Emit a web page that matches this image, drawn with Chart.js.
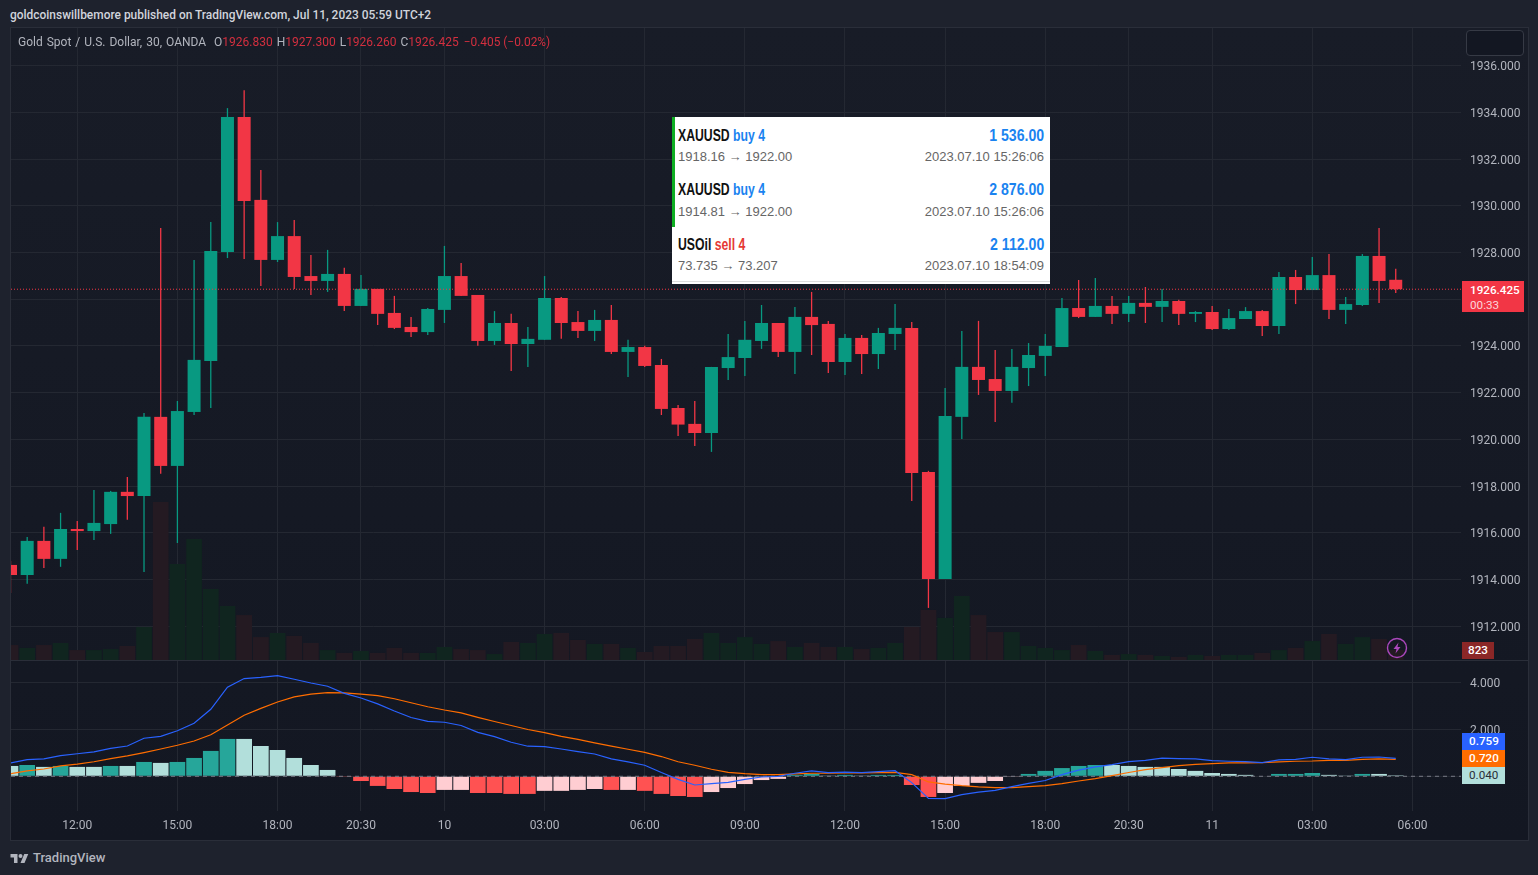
<!DOCTYPE html>
<html>
<head>
<meta charset="utf-8">
<title>XAUUSD 30</title>
<script src="https://cdn.jsdelivr.net/npm/chart.js@4/dist/chart.umd.min.js"></script>
<style>
html, body { margin: 0; padding: 0; background: #1e222d; width: 1538px; height: 875px; overflow: hidden; font-family: Roboto, sans-serif; }
.abs { position: absolute; white-space: nowrap; }
#frame { position: absolute; left: 10px; top: 27px; width: 1517px; height: 812px; border: 1px solid #2a2e39; background: linear-gradient(#181c27, #131722); }
canvas { position: absolute; display: block; }
#pub { left: 10px; top: 8px; font-size: 11.95px; font-weight: 500; color: #d1d4dc; }
#legend { left: 18px; top: 35px; font-size: 12px; color: #b2b5be; word-spacing: 1px; }
#legend b { font-weight: 400; color: #d32f3f; margin-right: 4px; }
#legend b.chg { margin-left: 1px; margin-right: 0; word-spacing: 0; font-size: 11.9px; }
.tag { position: absolute; left: 1462px; font-size: 11.7px; font-weight: 500; color: #fff; text-align: left; padding-left: 8px; box-sizing: border-box; }
#toggle { left: 1466px; top: 30px; width: 58px; height: 26px; box-sizing: border-box; border: 1px solid #363a45; border-radius: 4px; background: #131722; }
#popup { left: 672px; top: 117px; width: 378px; height: 167px; background: #fff; }
#popup .strip { position: absolute; left: 0; top: 0; width: 3px; height: 110px; background: #0fae22; }
#popup .rule { position: absolute; left: 0; right: 0; top: 164px; height: 1px; background: #ddd; }
#popup .t, #popup .p { position: absolute; font-family: "Liberation Sans", sans-serif; font-weight: 700; font-size: 17px; color: #111; }
#popup .t { left: 6px; transform: scaleX(0.72); transform-origin: left center; }
#popup .p { right: 6px; color: #1a83f0; transform: scaleX(0.83); transform-origin: right center; }
#popup .s, #popup .d { position: absolute; font-family: "Liberation Sans", sans-serif; font-size: 13px; color: #666; }
#popup .s { left: 6px; }
#popup .d { right: 6px; }
.buy { color: #1a83f0; }
.sell { color: #e53935; }
#brand { left: 33px; top: 850px; font-size: 13px; font-weight: 500; color: #b2b5be; }
</style>
</head>
<body>
<div id="frame"></div>
<canvas id="price-chart" width="1517" height="632" style="left:11px;top:28px"></canvas>
<canvas id="macd-chart" width="1517" height="178" style="left:11px;top:661px"></canvas>
<div style="position:absolute;left:11px;top:660px;width:1517px;height:1px;background:#2a2e39"></div>

<div id="pub" class="abs">goldcoinswillbemore published on TradingView.com, Jul 11, 2023 05:59 UTC+2</div>
<div id="legend" class="abs">Gold Spot / U.S. Dollar, 30, OANDA&nbsp; O<b>1926.830</b>H<b>1927.300</b>L<b>1926.260</b>C<b>1926.425</b><b class="chg">−0.405 (−0.02%)</b></div>
<div id="toggle" class="abs"></div>

<div id="popup" class="abs">
  <div class="strip"></div>
  <div class="t" style="top:9px">XAUUSD <span class="buy">buy 4</span></div>
  <div class="p" style="top:9px">1 536.00</div>
  <div class="s" style="top:32px">1918.16 → 1922.00</div>
  <div class="d" style="top:32px">2023.07.10 15:26:06</div>
  <div class="t" style="top:63px">XAUUSD <span class="buy">buy 4</span></div>
  <div class="p" style="top:63px">2 876.00</div>
  <div class="s" style="top:87px">1914.81 → 1922.00</div>
  <div class="d" style="top:87px">2023.07.10 15:26:06</div>
  <div class="t" style="top:118px">USOil <span class="sell">sell 4</span></div>
  <div class="p" style="top:118px">2 112.00</div>
  <div class="s" style="top:141px">73.735 → 73.207</div>
  <div class="d" style="top:141px">2023.07.10 18:54:09</div>
  <div class="rule"></div>
</div>

<div class="tag" style="top:281px;width:62px;height:31px;background:#f23645;line-height:15px;padding-top:2px">1926.425<br><span style="font-weight:400;color:#fcd5d9">00:33</span></div>
<div class="tag" style="top:642px;width:32px;height:17px;line-height:17px;background:#8b2727;padding-left:6px">823</div>
<div class="tag" style="top:733px;width:43px;height:17px;line-height:17px;background:#2962ff;padding-left:7px">0.759</div>
<div class="tag" style="top:750px;width:43px;height:17px;line-height:17px;background:#ff6d00;padding-left:7px">0.720</div>
<div class="tag" style="top:767px;width:43px;height:17px;line-height:17px;background:#b2dfdb;color:#2a2e39;font-weight:400;padding-left:7px">0.040</div>

<svg class="abs" style="left:1386px;top:637px" width="22" height="22" viewBox="0 0 22 22">
  <circle cx="11" cy="11" r="9.5" fill="none" stroke="#ab47bc" stroke-width="1.4"/>
  <path d="M12.5 5.5 L7.5 12 H10.5 L9.5 16.5 L14.5 10 H11.5 Z" fill="#ab47bc"/>
</svg>
<svg class="abs" style="left:10px;top:852px" width="19" height="11" viewBox="0 0 36 22">
  <path d="M14 22H7V11H0V4h14v18zM28 22h-8l7.5-18h8L28 22z" fill="#b2b5be"/>
  <circle cx="20" cy="8" r="4" fill="#b2b5be"/>
</svg>
<div id="brand" class="abs">TradingView</div>

<script>
const opens = [1914.62, 1914.19, 1915.65, 1914.88, 1916.16, 1916.07, 1916.37, 1917.75, 1917.57, 1920.96, 1918.86, 1921.17, 1923.35, 1928.02, 1933.80, 1930.25, 1927.68, 1928.70, 1926.99, 1926.78, 1927.08,
    1925.71, 1926.44, 1925.41, 1924.81, 1924.59, 1925.54, 1926.99, 1926.18, 1924.21, 1924.98, 1924.08, 1924.26, 1926.05, 1925.02, 1924.64, 1925.11, 1923.74, 1923.95, 1923.18, 1921.34, 1920.66,
    1920.27, 1923.05, 1923.48, 1924.21, 1924.98, 1923.74, 1925.24, 1924.94, 1923.31, 1924.34, 1923.65, 1924.51, 1924.77, 1918.60, 1914.02, 1920.96, 1923.10, 1922.58, 1922.07, 1923.05, 1923.57,
    1923.95, 1925.62, 1925.24, 1925.71, 1925.37, 1925.84, 1925.67, 1925.92, 1925.37, 1925.45, 1924.72, 1925.15, 1925.49, 1924.85, 1926.95, 1926.39, 1927.03, 1925.54, 1925.75, 1927.85, 1926.83];
const highs = [1914.79, 1915.82, 1916.25, 1916.85, 1916.50, 1917.83, 1917.79, 1918.39, 1921.13, 1929.05, 1921.64, 1927.68, 1929.30, 1934.18, 1934.95, 1931.53, 1929.30, 1929.39, 1927.89, 1928.11, 1927.34,
    1927.03, 1926.44, 1926.14, 1925.24, 1925.62, 1928.28, 1927.55, 1926.18, 1925.49, 1925.37, 1924.81, 1926.99, 1926.09, 1925.49, 1925.54, 1925.75, 1924.26, 1924.00, 1923.44, 1921.47, 1921.64,
    1923.10, 1924.51, 1925.07, 1925.75, 1924.98, 1925.66, 1926.31, 1925.07, 1924.51, 1924.47, 1924.77, 1925.79, 1925.02, 1918.65, 1922.20, 1924.64, 1925.07, 1923.82, 1923.87, 1924.12, 1924.51,
    1926.05, 1926.82, 1926.91, 1926.14, 1926.14, 1926.52, 1926.44, 1925.97, 1925.49, 1925.71, 1925.58, 1925.66, 1925.54, 1927.16, 1927.25, 1927.81, 1927.93, 1926.09, 1927.93, 1929.05, 1927.30];
const lows = [1913.42, 1913.81, 1914.49, 1914.54, 1915.26, 1915.69, 1915.95, 1916.55, 1914.32, 1918.52, 1915.56, 1921.04, 1921.34, 1927.76, 1927.72, 1926.56, 1927.59, 1926.44, 1926.18, 1926.31, 1925.49,
    1925.71, 1924.89, 1924.72, 1924.38, 1924.47, 1924.98, 1926.14, 1924.00, 1924.04, 1922.92, 1923.10, 1924.26, 1924.30, 1924.34, 1924.21, 1923.65, 1922.67, 1923.10, 1921.04, 1920.14, 1919.71,
    1919.46, 1922.54, 1922.71, 1923.87, 1923.52, 1922.80, 1923.61, 1922.84, 1922.75, 1922.80, 1923.01, 1923.82, 1917.36, 1912.78, 1914.02, 1920.01, 1921.90, 1920.74, 1921.56, 1922.28, 1922.71,
    1923.95, 1925.19, 1925.24, 1924.94, 1925.02, 1924.98, 1925.02, 1924.89, 1925.02, 1924.68, 1924.68, 1925.15, 1924.42, 1924.51, 1925.79, 1926.39, 1925.15, 1924.94, 1925.71, 1925.84, 1926.26];
const closes = [1914.19, 1915.65, 1914.88, 1916.16, 1916.07, 1916.42, 1917.75, 1917.57, 1920.96, 1918.86, 1921.21, 1923.40, 1928.06, 1933.80, 1930.20, 1927.68, 1928.70, 1926.95, 1926.78, 1927.08, 1925.71,
    1926.44, 1925.37, 1924.77, 1924.59, 1925.58, 1926.99, 1926.14, 1924.21, 1924.98, 1924.08, 1924.30, 1926.05, 1924.98, 1924.64, 1925.11, 1923.74, 1923.95, 1923.14, 1921.30, 1920.63, 1920.27,
    1923.10, 1923.52, 1924.26, 1924.98, 1923.74, 1925.24, 1924.89, 1923.31, 1924.34, 1923.65, 1924.55, 1924.77, 1918.56, 1914.02, 1921.00, 1923.10, 1922.54, 1922.07, 1923.10, 1923.61, 1924.00,
    1925.62, 1925.24, 1925.71, 1925.37, 1925.84, 1925.67, 1925.92, 1925.37, 1925.45, 1924.72, 1925.19, 1925.49, 1924.85, 1926.95, 1926.39, 1927.03, 1925.54, 1925.79, 1927.85, 1926.78, 1926.425];
const volumes = [1230, 990, 1230, 1400, 820, 820, 900, 1150, 2720, 13000, 7900, 9960, 5840, 4440, 3700, 1890, 2220, 1980, 1400, 820, 580,
    740, 580, 990, 580, 580, 1070, 900, 820, 490, 1480, 1400, 2140, 2220, 1650, 1320, 1320, 990, 660, 1150, 1150, 1730,
    2220, 1400, 1890, 1320, 1560, 1070, 1400, 1070, 1070, 900, 990, 1400, 2720, 4120, 3460, 5270, 3700, 2300, 2300, 1150, 990,
    820, 1230, 740, 410, 490, 410, 330, 250, 410, 330, 410, 410, 580, 820, 990, 1560, 2140, 1320, 1890, 1730, 823];

const macdLine = [0.57, 0.71, 0.74, 0.88, 0.96, 1.04, 1.19, 1.29, 1.62, 1.70, 1.94, 2.26, 2.85, 3.79, 4.16, 4.21, 4.28, 4.13, 3.97, 3.83, 3.53,
    3.33, 3.08, 2.78, 2.50, 2.34, 2.30, 2.16, 1.87, 1.69, 1.45, 1.28, 1.26, 1.16, 1.05, 0.95, 0.74, 0.61, 0.47, 0.16, -0.13, -0.37,
    -0.31, -0.26, -0.13, -0.03, 0, 0.13, 0.23, 0.16, 0.18, 0.16, 0.20, 0.24, -0.27, -0.94, -0.95, -0.78, -0.67, -0.60, -0.44, -0.30, -0.18,
    0.07, 0.26, 0.40, 0.50, 0.62, 0.68, 0.77, 0.75, 0.74, 0.67, 0.64, 0.62, 0.58, 0.70, 0.72, 0.81, 0.74, 0.71, 0.81, 0.82, 0.759];
const signalLine = [0.11, 0.23, 0.31, 0.44, 0.52, 0.62, 0.75, 0.87, 1.01, 1.16, 1.32, 1.50, 1.77, 2.18, 2.60, 2.89, 3.16, 3.38, 3.50, 3.56, 3.55,
    3.50, 3.43, 3.30, 3.13, 2.96, 2.82, 2.70, 2.51, 2.33, 2.16, 1.99, 1.86, 1.70, 1.57, 1.42, 1.28, 1.15, 1.02, 0.84, 0.62, 0.47,
    0.30, 0.17, 0.11, 0.07, 0.07, 0.10, 0.13, 0.13, 0.14, 0.14, 0.16, 0.17, 0.07, -0.24, -0.33, -0.40, -0.45, -0.48, -0.48, -0.44, -0.40,
    -0.31, -0.20, -0.10, 0.03, 0.16, 0.28, 0.37, 0.45, 0.51, 0.54, 0.57, 0.57, 0.58, 0.61, 0.64, 0.65, 0.68, 0.68, 0.72, 0.74, 0.72];
const histogram = [0.44, 0.48, 0.40, 0.44, 0.40, 0.40, 0.44, 0.44, 0.61, 0.57, 0.61, 0.78, 1.08, 1.59, 1.59, 1.29, 1.12, 0.78, 0.48, 0.27, -0.03,
    -0.20, -0.41, -0.54, -0.67, -0.71, -0.58, -0.58, -0.71, -0.71, -0.75, -0.75, -0.62, -0.62, -0.58, -0.54, -0.58, -0.58, -0.62, -0.75, -0.84, -0.88,
    -0.67, -0.50, -0.33, -0.16, -0.11, 0.06, 0.10, 0.03, 0.06, 0.03, 0.06, 0.06, -0.37, -0.88, -0.71, -0.41, -0.28, -0.20, -0.03, 0.10, 0.23,
    0.35, 0.44, 0.48, 0.48, 0.44, 0.40, 0.40, 0.31, 0.23, 0.14, 0.10, 0.06, 0.02, 0.10, 0.10, 0.14, 0.06, 0.03, 0.10, 0.10, 0.04];
// 1 = strong colour, 0 = pale colour
const histogramStrong = [0, 1, 0, 1, 0, 0, 1, 0, 1, 0, 1, 1, 1, 1, 0, 0, 0, 0, 0, 0, 1,
    1, 1, 1, 1, 1, 0, 0, 1, 1, 1, 1, 0, 0, 0, 0, 1, 0, 1, 1, 1, 1,
    0, 0, 0, 0, 0, 1, 1, 0, 1, 0, 1, 1, 1, 1, 0, 0, 0, 0, 0, 1, 1,
    1, 1, 1, 0, 0, 0, 0, 0, 0, 0, 0, 0, 0, 1, 1, 1, 0, 0, 1, 0, 0];

const priceTicks = [1912, 1914, 1916, 1918, 1920, 1922, 1924, 1926, 1928, 1930, 1932, 1934, 1936];
const macdTicks = [0, 2, 4];
const timeTickBars = [4, 10, 16, 21, 26, 32, 38, 44, 50, 56, 62, 67, 72, 78, 84];
const timeTickLabels = ['12:00', '15:00', '18:00', '20:30', '10', '03:00', '06:00', '09:00', '12:00', '15:00', '18:00', '20:30', '11', '03:00', '06:00'];
const lastPrice = 1926.425;

const X_MIN = 0.03;
const X_MAX = 86.91;
const GRID = '#242832';
const TEXT = '#b2b5be';
const UP = '#089981';
const DOWN = '#f23645';
const font = { family: 'Roboto, sans-serif', size: 12 };

const bars = opens.map((_, i) => i);
const isUp = i => closes[i] >= opens[i];

// chart.js reserves room for edge labels, these panes run right up to the edge
function noPadding(s) {
    s.paddingLeft = s.paddingRight = s.paddingTop = s.paddingBottom = 0;
}

function xAxis(showLabels) {
    return {
        type: 'linear',
        min: X_MIN,
        max: X_MAX,
        bounds: 'data',
        offset: false,
        border: { display: false },
        grid: { color: GRID, drawTicks: false, offset: false },
        afterBuildTicks: s => { s.ticks = timeTickBars.map(v => ({ value: v })); },
        afterFit: s => { s.height = showLabels ? 28 : 0; noPadding(s); },
        ticks: {
            display: showLabels,
            color: TEXT,
            font,
            padding: 8,
            autoSkip: false,
            maxRotation: 0,
            callback: v => timeTickLabels[timeTickBars.indexOf(v)],
        },
    };
}

function yAxis(min, max, values) {
    return {
        position: 'right',
        min,
        max,
        bounds: 'data',
        border: { display: false },
        grid: { color: GRID, drawTicks: false },
        afterBuildTicks: s => { s.ticks = values.map(v => ({ value: v })); },
        afterFit: s => { s.width = 67; noPadding(s); },
        ticks: {
            color: TEXT,
            // empty first line with a tight line height nudges the text down to sit on the gridline
            font: { ...font, lineHeight: 0.25 },
            padding: 9,
            autoSkip: false,
            callback: v => ['', v.toFixed(3)],
        },
    };
}

const baseOptions = {
    responsive: false,
    animation: false,
    events: [],
    layout: { padding: 0 },
    plugins: { legend: { display: false }, tooltip: { enabled: false } },
};

new Chart(document.getElementById('price-chart'), {
    type: 'bar',
    data: {
        datasets: [
            {
                order: 1,
                data: bars.map(i => ({ x: i, y: [opens[i], closes[i]] })),
                backgroundColor: c => isUp(c.dataIndex) ? UP : DOWN,
                barThickness: 13,
                inflateAmount: 0,
                grouped: false,
                yAxisID: 'y',
            },
            {
                order: 2,
                data: bars.map(i => ({ x: i, y: [lows[i], highs[i]] })),
                backgroundColor: c => isUp(c.dataIndex) ? UP : DOWN,
                barThickness: 1.3,
                inflateAmount: 0,
                grouped: false,
                yAxisID: 'y',
            },
            {
                order: 0,
                type: 'line',
                data: [{ x: X_MIN, y: lastPrice }, { x: X_MAX, y: lastPrice }],
                borderColor: DOWN,
                borderWidth: 1,
                borderDash: [1, 2],
                pointRadius: 0,
                yAxisID: 'y',
            },
            {
                order: 3,
                data: bars.map(i => ({ x: i, y: volumes[i] })),
                backgroundColor: c => isUp(c.dataIndex) ? '#10251f' : '#241a22',
                barThickness: 15.7,
                inflateAmount: 0,
                grouped: false,
                yAxisID: 'vol',
            },
        ],
    },
    options: {
        ...baseOptions,
        scales: {
            x: xAxis(false),
            y: yAxis(1910.55, 1937.61, priceTicks),
            vol: { display: false, min: 0, max: 52000 },
        },
    },
});

new Chart(document.getElementById('macd-chart'), {
    type: 'bar',
    data: {
        datasets: [
            {
                order: 0,
                type: 'line',
                data: bars.map(i => ({ x: i, y: macdLine[i] })),
                borderColor: '#2962ff',
                borderWidth: 1.2,
                pointRadius: 0,
            },
            {
                order: 1,
                type: 'line',
                data: bars.map(i => ({ x: i, y: signalLine[i] })),
                borderColor: '#ff6d00',
                borderWidth: 1.2,
                pointRadius: 0,
            },
            {
                order: 2,
                type: 'line',
                data: [{ x: X_MIN, y: 0 }, { x: X_MAX, y: 0 }],
                borderColor: '#787b86',
                borderWidth: 1,
                borderDash: [4, 4],
                pointRadius: 0,
            },
            {
                order: 3,
                data: bars.map(i => ({ x: i, y: histogram[i] })),
                backgroundColor: c => {
                    const strong = histogramStrong[c.dataIndex];
                    if (histogram[c.dataIndex] >= 0) return strong ? '#26a69a' : '#b2dfdb';
                    return strong ? '#ff5252' : '#ffcdd2';
                },
                barThickness: 15.7,
                inflateAmount: 0,
                grouped: false,
            },
        ],
    },
    options: {
        ...baseOptions,
        scales: {
            x: xAxis(true),
            y: yAxis(-1.477, 4.906, macdTicks),
        },
    },
});
</script>
</body>
</html>
